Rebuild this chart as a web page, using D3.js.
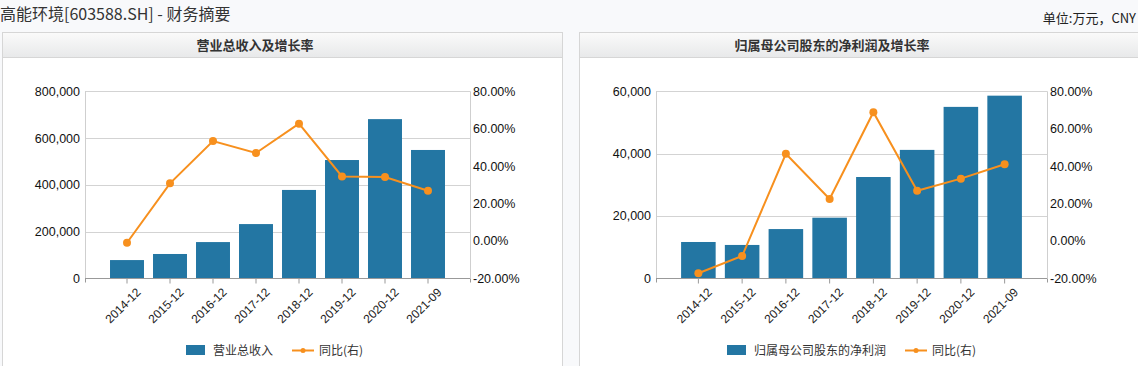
<!DOCTYPE html>
<html><head><meta charset="utf-8">
<script src="https://cdn.jsdelivr.net/npm/d3@7/dist/d3.min.js"></script>
<style>
html,body{margin:0;padding:0;background:#f8f9fb;}
svg{display:block;font-family:"Noto Sans CJK SC","Noto Sans",sans-serif;}
</style></head><body>
<svg id="c" width="1138" height="366"></svg>
<script>
const categories = ["2014-12","2015-12","2016-12","2017-12","2018-12","2019-12","2020-12","2021-09"];
const revenue = [78000, 104000, 155000, 232000, 378000, 506000, 681000, 549000];
const revenueYoY = [-1.0, 30.8, 53.4, 47.0, 62.7, 34.5, 34.2, 26.8];
const netProfit = [11650, 10700, 15800, 19450, 32500, 41200, 55000, 58600];
const netProfitYoY = [-17.3, -8.1, 46.6, 22.4, 68.8, 26.8, 33.3, 41.0];
const revTicks = [0, 200000, 400000, 600000, 800000];
const npTicks = [0, 20000, 40000, 60000];
const pctTicks = [-20, 0, 20, 40, 60, 80];

const BAR = "#2376a3", LINE = "#f7901e";
const svg = d3.select("#c");

const defs = svg.append("defs");
const g = defs.append("linearGradient").attr("id","hdr").attr("x1",0).attr("y1",0).attr("x2",0).attr("y2",1);
g.append("stop").attr("offset","0%").attr("stop-color","#fafafa");
g.append("stop").attr("offset","100%").attr("stop-color","#e8e9ea");

svg.append("text").attr("x",0).attr("y",20).attr("font-size",16).attr("fill","#333")
  .text("高能环境[603588.SH] - 财务摘要");
svg.append("text").attr("x",1136).attr("y",23).attr("font-size",13).attr("fill","#222")
  .attr("text-anchor","end").text("单位:万元，CNY");

function panel(opt){
  const {px, pw, title, titleX, x0, x1, vals, yoy, lDomain, lTicks, barName, legendX} = opt;
  const top = 32, hdrH = 25;
  svg.append("rect").attr("x",px+0.5).attr("y",top+0.5).attr("width",pw).attr("height",400)
    .attr("fill","#fff").attr("stroke","#d6d6d6");
  svg.append("rect").attr("x",px+1).attr("y",top+1).attr("width",pw-1).attr("height",hdrH-1)
    .attr("fill","url(#hdr)");
  svg.append("line").attr("x1",px+1).attr("x2",px+pw).attr("y1",top+hdrH+0.5).attr("y2",top+hdrH+0.5)
    .attr("stroke","#d6d6d6");
  svg.append("text").attr("x",titleX).attr("y",top+17.5).attr("text-anchor","middle")
    .attr("font-size",13).attr("font-weight","bold").attr("fill","#333").text(title);

  const yT = 91.3, yB = 278.3;
  const x = d3.scaleBand().domain(categories).range([x0+20.5, x1-20.5]).paddingInner(0.21).paddingOuter(0.105);
  const yl = d3.scaleLinear().domain(lDomain).range([yB, yT]);
  const yr = d3.scaleLinear().domain([-20, 80]).range([yB, yT]);

  svg.append("g").selectAll("line").data(lTicks.filter(d=>d>0)).join("line")
    .attr("x1",x0).attr("x2",x1).attr("y1",d=>Math.round(yl(d))+0.5).attr("y2",d=>Math.round(yl(d))+0.5)
    .attr("stroke","#d3d3d3");
  svg.append("line").attr("x1",x0+0.5).attr("x2",x0+0.5).attr("y1",yT).attr("y2",yB).attr("stroke","#cfcfcf");
  svg.append("line").attr("x1",x1+0.5).attr("x2",x1+0.5).attr("y1",yT).attr("y2",yB).attr("stroke","#cfcfcf");

  svg.append("g").selectAll("rect").data(vals).join("rect")
    .attr("x",(d,i)=>x(categories[i])).attr("width",x.bandwidth())
    .attr("y",d=>yl(d)).attr("height",d=>yB-yl(d)).attr("fill",BAR);

  const ax = svg.append("g").attr("transform",`translate(0,${Math.round(yB)+0.5})`)
    .call(d3.axisBottom(x).tickSize(5).tickSizeOuter(0).tickPadding(4));
  ax.select(".domain").attr("stroke","#999").attr("d",`M${x0},0H${x1}`);
  ax.selectAll(".tick line").attr("stroke","#999");
  ax.append("line").attr("x1",x0+0.5).attr("x2",x0+0.5).attr("y1",0).attr("y2",4).attr("stroke","#999");
  ax.append("line").attr("x1",x1+0.5).attr("x2",x1+0.5).attr("y1",0).attr("y2",4).attr("stroke","#999");
  ax.selectAll(".tick text").attr("font-size",12).attr("fill","#222").attr("font-family","inherit")
    .attr("text-anchor","end").attr("transform","translate(3,3) rotate(-45)").attr("dy","0.6em");

  const la = svg.append("g").attr("transform",`translate(${x0},0)`)
    .call(d3.axisLeft(yl).tickValues(lTicks).tickSize(0).tickPadding(5).tickFormat(d3.format(",")));
  la.select(".domain").remove();
  la.selectAll("text").attr("font-size",12.5).attr("fill","#111").attr("font-family","inherit");
  const ra = svg.append("g").attr("transform",`translate(${x1},0)`)
    .call(d3.axisRight(yr).tickValues(pctTicks).tickSize(0).tickPadding(3).tickFormat(d=>d.toFixed(2)+"%"));
  ra.select(".domain").remove();
  ra.selectAll("text").attr("font-size",12.5).attr("fill","#111").attr("font-family","inherit");

  const cx = i => x(categories[i]) + x.bandwidth()/2;
  svg.append("path").datum(yoy).attr("fill","none").attr("stroke",LINE).attr("stroke-width",2)
    .attr("d", d3.line().x((d,i)=>cx(i)).y(d=>yr(d)));
  svg.append("g").selectAll("circle").data(yoy).join("circle")
    .attr("cx",(d,i)=>cx(i)).attr("cy",d=>yr(d)).attr("r",4).attr("fill",LINE);

  const lg = svg.append("g").attr("transform",`translate(${legendX},350)`);
  lg.append("rect").attr("x",0).attr("y",-5).attr("width",19).attr("height",10).attr("fill",BAR);
  const t1 = lg.append("text").attr("x",27).attr("y",4.5).attr("font-size",12).attr("fill","#333").text(barName);
  const w = t1.node().getComputedTextLength();
  const lx = 27 + w + 19;
  lg.append("line").attr("x1",lx).attr("x2",lx+22).attr("y1",0.5).attr("y2",0.5).attr("stroke",LINE).attr("stroke-width",2);
  lg.append("circle").attr("cx",lx+11).attr("cy",0.5).attr("r",2.5).attr("fill",LINE);
  lg.append("text").attr("x",lx+27).attr("y",4.5).attr("font-size",12).attr("fill","#333").text("同比(右)");
}

panel({px:2, pw:560, title:"营业总收入及增长率", titleX:255, x0:85, x1:470,
  vals:revenue, yoy:revenueYoY, lDomain:[0,800000], lTicks:revTicks, barName:"营业总收入", legendX:186});
panel({px:579, pw:570, title:"归属母公司股东的净利润及增长率", titleX:832, x0:656, x1:1047,
  vals:netProfit, yoy:netProfitYoY, lDomain:[0,60000], lTicks:npTicks, barName:"归属母公司股东的净利润", legendX:727});
</script>
</body></html>
